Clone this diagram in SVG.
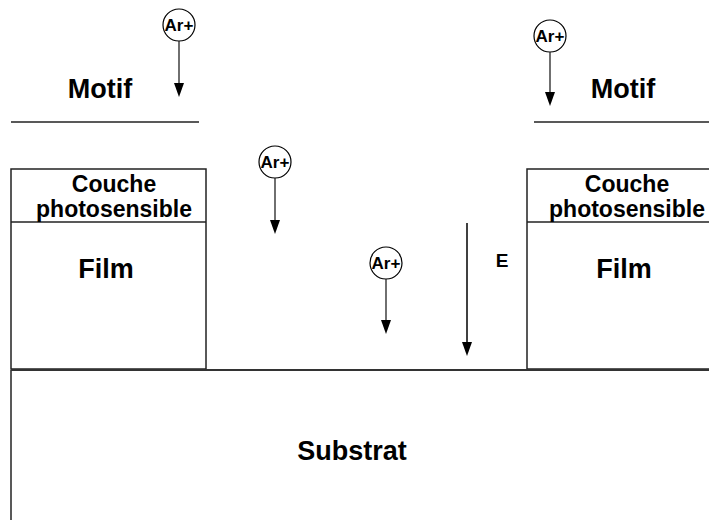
<svg xmlns="http://www.w3.org/2000/svg" width="709" height="520" viewBox="0 0 709 520">
<style>
text{font-family:"Liberation Sans",Arial,sans-serif;font-weight:bold;fill:#000;text-anchor:middle}
.big{font-size:27px}
.mid{font-size:23px}
.ion{font-size:17px}
.edge{fill:none;stroke:#222;stroke-width:1.5}
.sub{fill:none;stroke:#333;stroke-width:2}
.circ{fill:#fff;stroke:#000;stroke-width:1.2}
.shaft{stroke:#222;stroke-width:1.3}
.head{fill:#000}
</style>
<rect width="709" height="520" fill="#fff"/>
<g id="motif-left">
<line class="edge" x1="11" y1="122" x2="199" y2="122"/>
<text class="big" x="100" y="98">Motif</text>
</g>
<g id="motif-right">
<line class="edge" x1="534" y1="122" x2="709" y2="122"/>
<text class="big" x="623" y="98">Motif</text>
</g>
<g id="film-left">
<rect class="edge" x="11" y="169" width="195" height="200"/>
<line class="edge" x1="11" y1="222" x2="206" y2="222"/>
<text class="mid" x="114" y="192">Couche</text>
<text class="mid" x="114" y="217">photosensible</text>
<text class="big" x="106" y="278">Film</text>
</g>
<g id="film-right">
<rect class="edge" x="527" y="169" width="195" height="200"/>
<line class="edge" x1="527" y1="222" x2="722" y2="222"/>
<text class="mid" x="627" y="192">Couche</text>
<text class="mid" x="627" y="217">photosensible</text>
<text class="big" x="624" y="278">Film</text>
</g>
<g id="substrat">
<polyline class="edge" points="11,520 11,370"/>
<line class="sub" x1="11" y1="370" x2="709" y2="370"/>
<text class="big" x="352" y="460">Substrat</text>
</g>
<g id="ion1">
<circle class="circ" cx="179" cy="25" r="16"/>
<text class="ion" x="179" y="31">Ar+</text>
</g>
<g id="ion2">
<circle class="circ" cx="275" cy="162" r="16"/>
<text class="ion" x="275" y="168">Ar+</text>
</g>
<g id="ion3">
<circle class="circ" cx="386" cy="263" r="16"/>
<text class="ion" x="386" y="269">Ar+</text>
</g>
<g id="ion4">
<circle class="circ" cx="550" cy="36" r="16"/>
<text class="ion" x="550" y="42">Ar+</text>
</g>
<g id="field-label">
<text x="502" y="267" style="font-size:19px">E</text>
</g>
<g id="connectors">
<line class="shaft" x1="179" y1="41" x2="179" y2="83"/>
<path class="head" d="M174,83 L184,83 L179,97 Z"/>
<line class="shaft" x1="275" y1="178" x2="275" y2="220"/>
<path class="head" d="M270,220 L280,220 L275,234 Z"/>
<line class="shaft" x1="386" y1="279" x2="386" y2="320"/>
<path class="head" d="M381,320 L391,320 L386,334 Z"/>
<line class="shaft" x1="550" y1="52" x2="550" y2="92"/>
<path class="head" d="M545,92 L555,92 L550,106 Z"/>
<line x1="467" y1="223" x2="467" y2="342" stroke="#000" stroke-width="1.5"/>
<path class="head" d="M462,342 L472,342 L467,356 Z"/>
</g>
</svg>
